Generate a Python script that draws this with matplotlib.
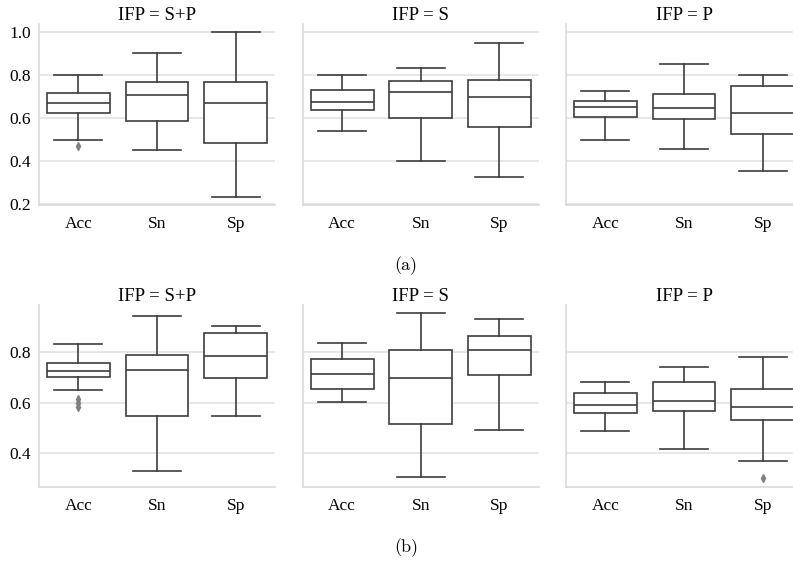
import numpy as np
import matplotlib
matplotlib.use("Agg")
from matplotlib import pyplot as plt

# box statistics: whislo, q1, median, q3, whishi
metrics = ["Acc", "Sn", "Sp"]
titles = ["IFP = S+P", "IFP = S", "IFP = P"]

# row (a)
a_sp = [[0.500, 0.623, 0.670, 0.715, 0.800],
        [0.451, 0.585, 0.710, 0.767, 0.902],
        [0.234, 0.484, 0.670, 0.767, 1.000]]
a_s = [[0.541, 0.637, 0.674, 0.732, 0.800],
       [0.400, 0.602, 0.721, 0.775, 0.834],
       [0.324, 0.558, 0.700, 0.778, 0.951]]
a_p = [[0.500, 0.605, 0.654, 0.678, 0.726],
       [0.458, 0.594, 0.645, 0.713, 0.851],
       [0.353, 0.524, 0.623, 0.751, 0.800]]
a_fliers = [[[0.470], [], []], [[], [], []], [[], [], []]]

# row (b)
b_sp = [[0.650, 0.701, 0.727, 0.757, 0.832],
        [0.326, 0.546, 0.730, 0.788, 0.943],
        [0.546, 0.697, 0.784, 0.875, 0.903]]
b_s = [[0.601, 0.653, 0.713, 0.775, 0.838],
       [0.302, 0.514, 0.698, 0.808, 0.955],
       [0.490, 0.709, 0.808, 0.866, 0.931]]
b_p = [[0.485, 0.558, 0.592, 0.636, 0.681],
       [0.416, 0.567, 0.607, 0.681, 0.743],
       [0.368, 0.530, 0.584, 0.653, 0.783]]
b_fliers = [[[0.612, 0.598, 0.583], [], []], [[], [], []], [[], [], [0.298]]]

rows = [([a_sp, a_s, a_p], a_fliers, "(a)"), ([b_sp, b_s, b_p], b_fliers, "(b)")]

plt.rcParams["font.family"] = ["Liberation Serif", "DejaVu Serif"]
line_col = "#3d3d3d"
grid_col = "#e3e3e3"

W, H = 793, 563
fig = plt.figure(figsize=(W / 100, H / 100), dpi=100)

lefts = [39, 302.7, 566]
axw = 236
row_top = [24, 305]
row_bot = [205, 486.7]
cap_y = [266, 548]

for r, (panels, fliers, lab) in enumerate(rows):
    first = None
    for c in range(3):
        rect = [lefts[c] / W, (H - row_bot[r]) / H, axw / W,
                (row_bot[r] - row_top[r]) / H]
        ax = fig.add_axes(rect, sharey=first)
        if first is None:
            first = ax
        stats = []
        for k, m in enumerate(metrics):
            lo, q1, med, q3, hi = panels[c][k]
            stats.append(dict(label=m, whislo=lo, q1=q1, med=med, q3=q3,
                              whishi=hi, fliers=fliers[c][k]))
        ax.bxp(stats, positions=range(3), widths=0.8, capwidths=0.61,
               patch_artist=True,
               boxprops=dict(facecolor="white", edgecolor=line_col, lw=1.2),
               medianprops=dict(color=line_col, lw=1.2),
               whiskerprops=dict(color=line_col, lw=1.2),
               capprops=dict(color=line_col, lw=1.2),
               flierprops=dict(marker="d", markersize=4, markerfacecolor="gray",
                               markeredgecolor="gray"))
        ax.set_xlim(-0.5, 2.5)
        ax.set_axisbelow(True)
        ax.yaxis.grid(True, color=grid_col, lw=1.2)
        ax.xaxis.grid(False)
        for s in ["top", "right"]:
            ax.spines[s].set_visible(False)
        for s in ["left", "bottom"]:
            ax.spines[s].set_color("#dadada")
            ax.spines[s].set_linewidth(1.2)
        ax.tick_params(length=0, labelsize=12.5)
        ax.tick_params(axis="x", pad=8)
        ax.tick_params(axis="y", pad=6)
        ax.set_title(titles[c], fontsize=13.5, pad=3)
        if c > 0:
            ax.tick_params(labelleft=False)
    first.set_yticks([0.2, 0.4, 0.6, 0.8, 1.0] if r == 0 else [0.4, 0.6, 0.8])
    first.autoscale(axis="y")
    fig.text(406 / W, 1 - cap_y[r] / H, lab, ha="center", va="center",
             fontsize=13, family=["cmr10", "DejaVu Serif"])

fig.savefig("out.png", dpi=100)
